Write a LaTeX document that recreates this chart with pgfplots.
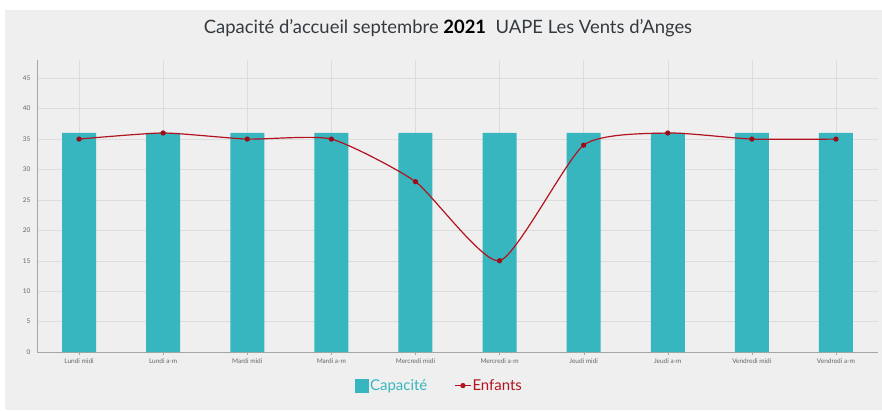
\documentclass[border=0pt]{standalone}
\usepackage{fontspec}
\setmainfont{Lato}
\usepackage{pgfplots}
\pgfplotsset{compat=1.18}
\definecolor{bg}{HTML}{EFEFEF}
\definecolor{tealc}{HTML}{38B6C0}
\definecolor{redl}{HTML}{B3121F}
\definecolor{gridc}{HTML}{DCDCDC}
\definecolor{tickc}{HTML}{666666}
\definecolor{titc}{HTML}{333A40}
\begin{document}
\begin{tikzpicture}[x=1bp,y=1bp]
\fill[white] (0,0) rectangle (882,410);
\fill[bg] (5,0) rectangle (882,400);
\node[font=\fontsize{18.5}{22}\selectfont, text=titc] at (448,382) {Capacité d'accueil septembre \textcolor{black}{\textbf{2021}}\ \ UAPE Les Vents d'Anges};
\begin{axis}[
  at={(37bp,58bp)}, anchor=south west,
  scale only axis, width=841bp, height=292bp,
  xmin=-0.5, xmax=9.5, ymin=0, ymax=48,
  axis lines=left,
  axis line style={draw=gray!70, -},
  xtick={0,...,9},
  xticklabels={Lundi midi,Lundi a-m,Mardi midi,Mardi a-m,Mercredi midi,Mercredi a-m,Jeudi midi,Jeudi a-m,Vendredi midi,Vendredi a-m},
  ytick={0,5,...,45},
  tick label style={font=\fontsize{6.5}{8}\selectfont, text=tickc},
  /pgf/number format/assume math mode=true,
  xtick style={draw=gray!70}, ytick style={draw=none},
  major tick length=3bp,
  tick align=outside,
  xmajorgrids, ymajorgrids,
  major grid style={draw=gridc, line width=0.4pt},
  legend columns=2,
  legend style={at={(0.478,-0.115)}, anchor=center, draw=none, fill=none,
    font=\fontsize{15}{18}\selectfont, nodes={inner sep=1bp},
    /tikz/every odd column/.style={column sep=0bp},
    /tikz/every even column/.style={column sep=26bp}},
  legend cell align=left,
]
\addplot[ybar, bar width=34bp, fill=tealc, draw=none,
  legend image code/.code={\fill[tealc] (0bp,-7bp) rectangle (14bp,7bp);}]
  coordinates {(0,36) (1,36) (2,36) (3,36) (4,36) (5,36) (6,36) (7,36) (8,36) (9,36)};
\addlegendentry{\textcolor{tealc}{Capacité}}
\addplot[redl, line width=1.2pt, smooth, tension=0.35, mark=*, mark size=2bp,
  mark options={fill=redl!85!black, draw=redl!85!black},
  legend image code/.code={\draw[redl, line width=1.2pt] (0bp,0bp) -- (16bp,0bp); \fill[redl] (8bp,0bp) circle (2bp);}]
  coordinates {(0,35) (1,36) (2,35) (3,35) (4,28) (5,15) (6,34) (7,36) (8,35) (9,35)};
\addlegendentry{\textcolor{redl}{Enfants}}
\end{axis}
\end{tikzpicture}
\end{document}
